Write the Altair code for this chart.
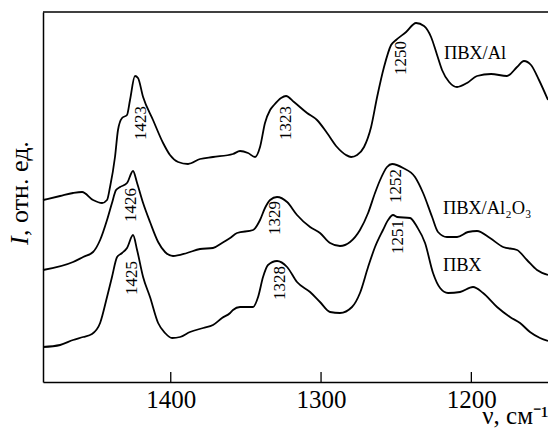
import altair as alt
import pandas as pd

# ---- data (wavenumber, cm^-1 ; intensity, arb. units) ----
al_wn = [1485.0, 1473.6, 1465.0, 1459.0, 1451.7, 1445.7, 1442.4, 1440.4, 1437.1, 1435.1,
         1432.4, 1429.1, 1427.1, 1423.8, 1421.8, 1418.4, 1411.8, 1405.1, 1400.5, 1395.1,
         1388.5, 1380.5, 1371.9, 1358.6, 1353.9, 1348.6, 1343.9, 1340.6, 1337.3, 1333.9,
         1331.3, 1326.6, 1323.3, 1318.0, 1309.3, 1302.7, 1296.0, 1289.4, 1283.4, 1280.0,
         1276.0, 1271.4, 1266.7, 1262.7, 1258.1, 1253.4, 1250.1, 1243.4, 1236.8, 1231.5,
         1226.8, 1222.8, 1219.5, 1214.8, 1209.5, 1202.9, 1196.2, 1186.9, 1176.3, 1169.6,
         1165.0, 1160.3, 1155.0, 1149.0]
al_i = [182, 186, 189, 190, 182, 179, 182, 195, 225, 252,
        264, 267, 282, 306, 304, 285, 262, 239, 227, 220,
        218, 223, 225, 228, 231, 229, 225, 235, 259, 272,
        277, 284, 286, 280, 269, 262, 249, 235, 227, 225,
        227, 235, 255, 285, 315, 337, 342, 350, 359, 356,
        345, 327, 312, 300, 295, 299, 306, 308, 306, 315,
        321, 317, 302, 282]

al2o3_wn = [1485.0, 1465.0, 1458.3, 1451.7, 1447.0, 1442.4, 1439.1, 1436.4, 1433.7, 1429.1,
            1425.1, 1422.4, 1418.4, 1413.8, 1408.4, 1403.8, 1398.5, 1389.2, 1380.5, 1371.9,
            1365.9, 1360.5, 1355.9, 1345.2, 1340.6, 1337.3, 1333.9, 1329.3, 1322.6, 1316.0,
            1307.3, 1300.7, 1294.0, 1287.4, 1280.7, 1274.1, 1268.7, 1264.1, 1260.7, 1256.1,
            1252.7, 1245.4, 1237.5, 1232.1, 1226.1, 1222.2, 1216.2, 1209.5, 1202.2, 1196.2,
            1187.6, 1178.9, 1169.6, 1163.0, 1156.3, 1149.0]
al2o3_i = [112, 120, 125, 130, 142, 162, 179, 192, 195, 199,
           211, 199, 179, 160, 140, 130, 126, 129, 133, 134,
           139, 144, 149, 152, 162, 174, 182, 185, 180, 167,
           155, 149, 139, 136, 140, 152, 169, 189, 202, 215,
           218, 214, 205, 189, 165, 150, 145, 145, 150, 151,
           144, 135, 132, 122, 112, 107]

pvc_wn = [1485.0, 1473.6, 1465.0, 1458.3, 1452.4, 1447.0, 1442.4, 1439.1, 1435.7, 1432.4,
          1429.1, 1425.1, 1422.4, 1418.4, 1413.8, 1408.4, 1403.8, 1399.1, 1393.8, 1387.2,
          1378.4, 1371.9, 1365.9, 1360.5, 1358.6, 1353.9, 1345.2, 1341.9, 1338.6, 1335.3,
          1329.3, 1322.6, 1316.0, 1307.3, 1300.7, 1294.0, 1287.4, 1279.4, 1274.1, 1268.7,
          1264.1, 1258.8, 1255.4, 1252.1, 1249.4, 1240.8, 1236.1, 1230.8, 1225.5, 1220.8,
          1215.5, 1207.5, 1198.9, 1192.2, 1182.9, 1174.3, 1167.6, 1161.0, 1154.3, 1149.0]
pvc_i = [35, 37, 42, 45, 48, 59, 85, 105, 125, 129,
         134, 147, 132, 105, 85, 59, 49, 44, 45, 50,
         54, 57, 64, 69, 72, 75, 75, 85, 105, 117,
         121, 115, 100, 90, 80, 70, 69, 75, 89, 115,
         135, 152, 162, 167, 165, 164, 155, 139, 109, 94,
         89, 90, 95, 89, 75, 65, 59, 50, 44, 41]

peak_labels = ["1423", "1426", "1425", "1323", "1329", "1328", "1250", "1252", "1251"]
peak_wn = [1419.8, 1426.4, 1425.7, 1323.3, 1330.6, 1327.3, 1246.8, 1250.1, 1248.8]
peak_i = [259, 177, 104, 259, 164, 99, 324, 196, 145]

series_labels = ["ПВХ/Al", "ПВХ/Al₂O₃", "ПВХ"]
series_wn = [1218.2, 1218.9, 1218.9]
series_i = [329, 174, 117]

x_ticks = [1400, 1300, 1200]

# ---- build tables ----
rows = []
for name, wn, iv in [("ПВХ/Al", al_wn, al_i), ("ПВХ/Al2O3", al2o3_wn, al2o3_i), ("ПВХ", pvc_wn, pvc_i)]:
    for w, v in zip(wn, iv):
        rows.append({"series": name, "wn": w, "I": v})
df = pd.DataFrame(rows)
peaks = pd.DataFrame({"wn": peak_wn, "I": peak_i, "label": peak_labels})
slabels = pd.DataFrame({"wn": series_wn, "I": series_i, "label": series_labels})
ticks = pd.DataFrame({"wn": x_ticks})

FONT = "Liberation Serif"
W, H = 505, 370

xscale = alt.Scale(domain=[1149.0, 1485.0], reverse=True, nice=False, zero=False)
yscale = alt.Scale(domain=[0, 370], nice=False, zero=False)

xaxis = alt.Axis(values=x_ticks, format="d", grid=False, ticks=False, domain=True, domainColor="black",
                 domainWidth=1.5, labelFont=FONT, labelFontSize=25, labelColor="black",
                 labelPadding=5, title="ν, см⁻¹", titleFont=FONT, titleFontSize=25,
                 titleFontWeight="normal", titleColor="black", titleAnchor="end",
                 titleAlign="right", titleBaseline="alphabetic", titleX=W, titleY=41)
yaxis = alt.Axis(grid=False, ticks=False, labels=False, domain=True, domainColor="black",
                 domainWidth=1.5, title="")

lines = alt.Chart(df).mark_line(color="black", strokeWidth=1.8, interpolate="monotone").encode(
    x=alt.X("wn:Q", scale=xscale, axis=xaxis),
    y=alt.Y("I:Q", scale=yscale, axis=yaxis),
    detail="series:N",
)

tick_rules = alt.Chart(ticks).mark_rule(color="black", strokeWidth=1.3).encode(
    x=alt.X("wn:Q", scale=xscale),
    y=alt.value(H - 10),
    y2=alt.value(H),
)

top_line = alt.Chart(pd.DataFrame({"a": [0]})).mark_rule(color="black", strokeWidth=1.5).encode(
    x=alt.value(0), x2=alt.value(W), y=alt.value(0)
)

peak_text = alt.Chart(peaks).mark_text(angle=270, align="center", baseline="middle",
                                       font=FONT, fontSize=17, color="black").encode(
    x=alt.X("wn:Q", scale=xscale), y=alt.Y("I:Q", scale=yscale), text="label:N"
)

series_text = alt.Chart(slabels).mark_text(align="left", baseline="middle",
                                           font=FONT, fontSize=18.5, color="black").encode(
    x=alt.X("wn:Q", scale=xscale), y=alt.Y("I:Q", scale=yscale), text="label:N"
)

ytitle_i = alt.Chart(pd.DataFrame({"t": ["I"]})).mark_text(
    angle=270, align="left", baseline="alphabetic", font=FONT, fontSize=26,
    fontStyle="italic", color="black").encode(x=alt.value(-15), y=alt.value(233), text="t:N")
ytitle_rest = alt.Chart(pd.DataFrame({"t": [", отн. ед."]})).mark_text(
    angle=270, align="left", baseline="alphabetic", font=FONT, fontSize=26,
    color="black").encode(x=alt.value(-15), y=alt.value(224), text="t:N")

chart = alt.layer(lines, tick_rules, top_line, peak_text, series_text, ytitle_i, ytitle_rest).properties(
    width=W, height=H,
    autosize=alt.AutoSizeParams(type="none"),
    padding={"left": 43, "top": 12, "right": 0, "bottom": 48},
    background="white",
).configure_view(stroke=None)

chart.save("out.html", embed_options={"renderer": "svg", "actions": False})
